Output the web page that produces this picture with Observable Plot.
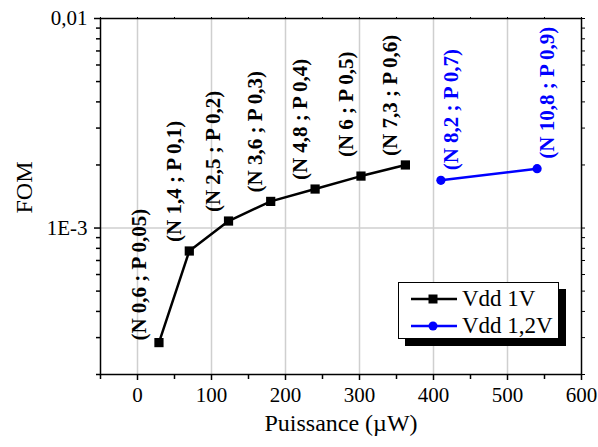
<!DOCTYPE html>
<html>
<head>
<meta charset="utf-8">
<script src="https://cdn.jsdelivr.net/npm/d3@7"></script>
<script src="https://cdn.jsdelivr.net/npm/@observablehq/plot@0.6"></script>
<style>
  html, body { margin: 0; padding: 0; background: white; }
  #wrap { position: relative; width: 598px; height: 447px; font-family: "Liberation Serif", "Times New Roman", serif; }
  #legend { position: absolute; left: 398px; top: 282px; width: 159px; height: 55px; border: 1px solid black; background: white; box-shadow: 7px 7px 0 black; }
  .row { position: absolute; left: 0; height: 24px; width: 159px; }
  .row svg { position: absolute; left: 10px; top: 0; }
  .row span { position: absolute; left: 63px; top: 0; font-size: 23px; line-height: 24px; color: black; white-space: nowrap; }
</style>
</head>
<body>
<div id="wrap"></div>
<script>
// ---- Data ----
const series = ["Vdd 1V", "Vdd 1,2V"];
const power1V = [29, 70, 123, 180, 240, 302, 362];
const fom1V = [2.84e-4, 7.77e-4, 1.08e-3, 1.34e-3, 1.535e-3, 1.77e-3, 2.0e-3];
const labels1V = ["(N 0,6 ; P 0,05)", "(N 1,4 ; P 0,1)", "(N 2,5 ; P 0,2)", "(N 3,6 ; P 0,3)", "(N 4,8 ; P 0,4)", "(N 6 ; P 0,5)", "(N 7,3 ; P 0,6)"];
const power12V = [410, 540];
const fom12V = [1.69e-3, 1.92e-3];
const labels12V = ["(N 8,2 ; P 0,7)", "(N 10,8 ; P 0,9)"];

const xTicks = [0, 100, 200, 300, 400, 500, 600];
const xMinorTicks = [-50, 50, 150, 250, 350, 450, 550];
const yTicks = [1e-3, 1e-2];
const yTickLabels = ["1E-3", "0,01"];
const yMinorTicks = [2e-4, 3e-4, 4e-4, 5e-4, 6e-4, 7e-4, 8e-4, 9e-4, 2e-3, 3e-3, 4e-3, 5e-3, 6e-3, 7e-3, 8e-3, 9e-3];
const xLabel = "Puissance (µW)";
const yLabel = "FOM";

const d1 = power1V.map((x, i) => ({x, fom: fom1V[i], label: labels1V[i]}));
const d2 = power12V.map((x, i) => ({x, fom: fom12V[i], label: labels12V[i]}));

const blue = "#0000ff";
const labelStyle = {x: "x", y: "fom", text: "label", rotate: -90, textAnchor: "start", fontWeight: "bold", fontSize: 21};

const chart = Plot.plot({
  width: 598,
  height: 447,
  marginLeft: 100,
  marginRight: 17,
  marginTop: 18,
  marginBottom: 73,
  style: {fontFamily: "'Liberation Serif', 'Times New Roman', serif", fontSize: "21px", color: "black", background: "white"},
  x: {domain: [-50, 600]},
  y: {type: "log", domain: [2e-4, 1e-2]},
  marks: [
    Plot.ruleX(xTicks.filter(v => v < 600), {stroke: "#cfcfcf", strokeWidth: 1.5}),
    Plot.ruleY(yTicks.filter(v => v < 1e-2), {stroke: "#cfcfcf", strokeWidth: 1.5}),
    Plot.line(d1, {x: "x", y: "fom", stroke: "black", strokeWidth: 2.5}),
    Plot.dot(d1, {x: "x", y: "fom", symbol: "square", r: 5.2, fill: "black", stroke: "none"}),
    Plot.line(d2, {x: "x", y: "fom", stroke: blue, strokeWidth: 2.5}),
    Plot.dot(d2, {x: "x", y: "fom", r: 4.6, fill: blue, stroke: "none"}),
    Plot.text(d1, {...labelStyle, filter: (d, i) => i === 0, dx: -20, dy: -2, fill: "black"}),
    Plot.text(d1, {...labelStyle, filter: (d, i) => i > 0 && i !== 5, dx: -15, dy: -9, fill: "black"}),
    Plot.text(d1, {...labelStyle, filter: (d, i) => i === 5, dx: -15, dy: -19, fill: "black"}),
    Plot.text(d2, {...labelStyle, dx: 10, dy: -10, fill: blue}),
    Plot.frame({stroke: "black", strokeWidth: 1.5}),
    Plot.axisX({ticks: xTicks, tickSize: 6, tickPadding: 7, tickFormat: d => String(d), label: null, strokeWidth: 1.5}),
    Plot.axisX({ticks: xMinorTicks, tickSize: 5, tickFormat: () => "", label: null, strokeWidth: 1.5}),
    Plot.axisX({anchor: "top", ticks: xTicks.concat(xMinorTicks), tickSize: 2, tickFormat: () => "", label: null}),
    Plot.axisY({ticks: yTicks, tickSize: 6, tickPadding: 7, tickFormat: d => yTickLabels[yTicks.indexOf(d)], label: null, strokeWidth: 1.5}),
    Plot.axisY({ticks: yMinorTicks, tickSize: 4, tickFormat: () => "", label: null, strokeWidth: 1.5}),
    Plot.axisY({anchor: "right", ticks: yTicks.concat(yMinorTicks), tickSize: 3, tickFormat: () => "", label: null}),
    Plot.text([yLabel], {frameAnchor: "left", dx: -76, dy: 17, rotate: -90, fontSize: 24}),
    Plot.text([xLabel], {frameAnchor: "bottom", dy: 56, fontSize: 24})
  ]
});

const wrap = document.getElementById("wrap");
wrap.appendChild(chart);

// Legend (HTML overlay)
const legend = document.createElement("div");
legend.id = "legend";
const rowsSpec = [
  {name: series[0], color: "black", shape: "square", top: 4},
  {name: series[1], color: blue, shape: "circle", top: 31}
];
for (const r of rowsSpec) {
  const row = document.createElement("div");
  row.className = "row";
  row.style.top = r.top + "px";
  const marker = r.shape === "square"
    ? `<rect x="19.5" y="7.5" width="9" height="9" fill="${r.color}"/>`
    : `<circle cx="24" cy="12" r="4.5" fill="${r.color}"/>`;
  row.innerHTML = `<svg width="50" height="24"><line x1="2" x2="48" y1="12" y2="12" stroke="${r.color}" stroke-width="2.5"/>${marker}</svg><span>${r.name}</span>`;
  legend.appendChild(row);
}
wrap.appendChild(legend);
</script>
</body>
</html>
